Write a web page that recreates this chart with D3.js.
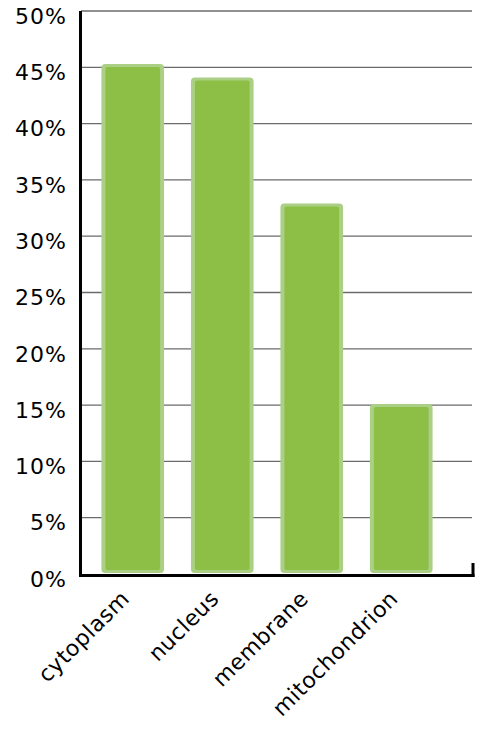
<!DOCTYPE html>
<html>
<head>
<meta charset="utf-8">
<script src="https://cdn.jsdelivr.net/npm/d3@7"></script>
<style>
  body { margin: 0; background: #fff; }
  text { font-family: "DejaVu Sans", sans-serif; fill: #000; }
</style>
</head>
<body>
<script>
// data
var categories = ["cytoplasm", "nucleus", "membrane", "mitochondrion"];
var values = [45.3, 44.1, 32.9, 15.1];
var yTicks = [0, 5, 10, 15, 20, 25, 30, 35, 40, 45, 50];

var width = 500, height = 731;
var plotLeft = 81, plotRight = 473, plotTop = 11, plotBottom = 574;

var svg = d3.select("body").append("svg")
    .attr("width", width)
    .attr("height", height);

var x = d3.scaleBand()
    .domain(categories)
    .range([88, 446])
    .paddingInner(0.3)
    .paddingOuter(0.15);

var y = d3.scaleLinear()
    .domain([0, 50])
    .range([plotBottom, plotTop]);

// gridlines
svg.append("g")
  .selectAll("line")
  .data(yTicks.filter(function(d) { return d > 0; }))
  .enter().append("line")
    .attr("x1", plotLeft)
    .attr("x2", plotRight - 1)
    .attr("y1", function(d) { return y(d); })
    .attr("y2", function(d) { return y(d); })
    .attr("stroke", "#6b6b6b")
    .attr("stroke-width", 1.3);

// y tick labels
svg.append("g")
  .selectAll("text")
  .data(yTicks)
  .enter().append("text")
    .attr("x", 67)
    .attr("y", function(d) { return y(d) + 5; })
    .attr("dy", "0.35em")
    .attr("text-anchor", "end")
    .style("font-size", "22px")
    .style("letter-spacing", "1px")
    .text(function(d) { return d + "%"; });

// bars: light outer, darker inner
var bars = svg.append("g")
  .selectAll("g")
  .data(values)
  .enter().append("g");

bars.append("rect")
    .attr("x", function(d, i) { return x(categories[i]); })
    .attr("y", function(d) { return y(d); })
    .attr("width", x.bandwidth())
    .attr("height", function(d) { return plotBottom - 1 - y(d); })
    .attr("rx", 4)
    .attr("fill", "#aacf85");

bars.append("rect")
    .attr("x", function(d, i) { return x(categories[i]) + 4; })
    .attr("y", function(d) { return y(d) + 3; })
    .attr("width", x.bandwidth() - 8)
    .attr("height", function(d) { return plotBottom - 1 - y(d) - 6; })
    .attr("rx", 2)
    .attr("fill", "#8dbf46");

// axes lines
svg.append("line")
    .attr("x1", 80.5).attr("x2", 80.5)
    .attr("y1", plotTop).attr("y2", plotBottom + 3)
    .attr("stroke", "#000").attr("stroke-width", 3);

svg.append("line")
    .attr("x1", 79).attr("x2", plotRight + 1.5)
    .attr("y1", plotBottom + 1.5).attr("y2", plotBottom + 1.5)
    .attr("stroke", "#000").attr("stroke-width", 3);

svg.append("line")
    .attr("x1", plotRight).attr("x2", plotRight)
    .attr("y1", plotBottom - 11).attr("y2", plotBottom + 3)
    .attr("stroke", "#000").attr("stroke-width", 3);

// x labels rotated
svg.append("g")
  .selectAll("text")
  .data(categories)
  .enter().append("text")
    .attr("text-anchor", "end")
    .attr("transform", function(d) {
        return "translate(" + (x(d) + x.bandwidth() / 2 - 2) + "," + 600 + ") rotate(-45)";
    })
    .style("font-size", "22px")
    .style("letter-spacing", "0.5px")
    .text(function(d) { return d; });
</script>
</body>
</html>
